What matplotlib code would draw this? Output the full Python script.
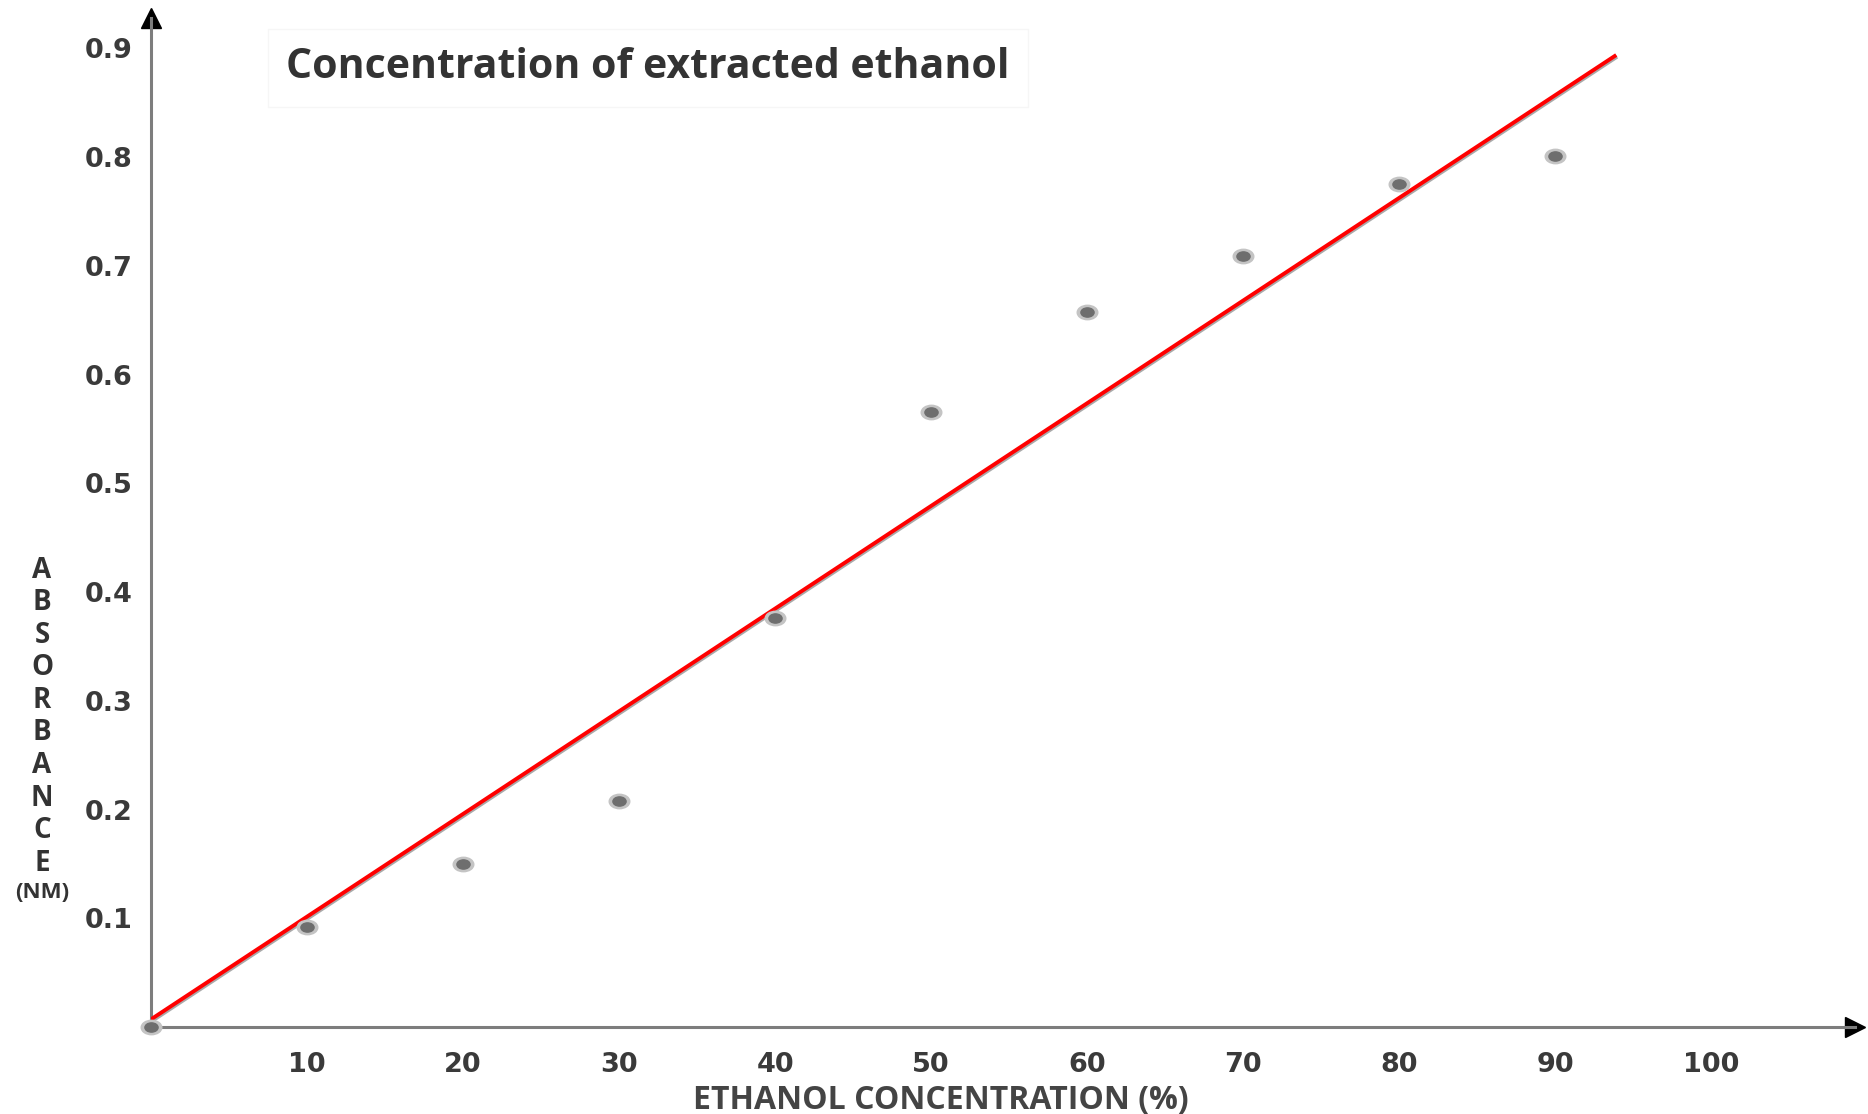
import numpy as np
import matplotlib
matplotlib.use('Agg')
import matplotlib.pyplot as plt
import matplotlib.patheffects as pe
from matplotlib.path import Path

# data
conc = [0, 10, 20, 30, 40, 50, 60, 70, 80, 90]
absorb = [0.0, 0.092, 0.150, 0.208, 0.376, 0.566, 0.658, 0.709, 0.775, 0.801]
# drawn trend line (two end points)
fit_x = [0, 93.8]
fit_y = [0.007, 0.893]

x_ticks = [10, 20, 30, 40, 50, 60, 70, 80, 90, 100]
y_ticks = [0.1, 0.2, 0.3, 0.4, 0.5, 0.6, 0.7, 0.8, 0.9]
ylabel_letters = list("ABSORBANCE")

fig = plt.figure(figsize=(18.68, 11.14), dpi=100)
ax = fig.add_axes([0.0808, 0.0781, 0.9122, 0.9057])
ax.set_xlim(0, 109.2)
ax.set_ylim(0, 0.928)

for s in ['top', 'right']:
    ax.spines[s].set_visible(False)
for s in ['left', 'bottom']:
    ax.spines[s].set_color('#7d7d7d')
    ax.spines[s].set_linewidth(2.2)

# arrow heads on the axes
ax.plot(0, 1, marker='^', color='black', markersize=15, transform=ax.transAxes, clip_on=False)
ax.plot(1, 0, marker='>', color='black', markersize=15, transform=ax.transAxes, clip_on=False)

# trend line with a slight shadow
ax.plot(fit_x, fit_y, color='#ff0000', linewidth=2.8, zorder=3,
        path_effects=[pe.SimpleLineShadow(offset=(0.6, -1.2), shadow_color='#555555', alpha=0.5),
                      pe.Normal()])

# flattened grey points
ell = Path.unit_circle()
ell = Path(ell.vertices * np.array([1.0, 0.7]), ell.codes)
ax.scatter(conc, absorb, marker=ell, s=220, color='#c4c4c4', zorder=4, clip_on=False)
ax.scatter(conc, absorb, marker=ell, s=90, color='#6e6e6e', zorder=5, clip_on=False)

ax.set_xticks(x_ticks)
ax.set_xticklabels([str(v) for v in x_ticks])
ax.set_yticks(y_ticks)
ax.set_yticklabels([f'{v:.1f}' for v in y_ticks])
ax.tick_params(axis='both', length=0, labelsize=19.5, labelcolor='#3a3a3a')
ax.tick_params(axis='x', pad=18)
ax.tick_params(axis='y', pad=13)
for lab in ax.get_xticklabels() + ax.get_yticklabels():
    lab.set_fontweight('bold')
    lab.set_family('DejaVu Sans')

ax.text(941 / 1868, 1 - 1101 / 1114, 'ETHANOL CONCENTRATION (%)', transform=fig.transFigure,
        ha='center', va='center', fontsize=23, fontweight='bold',
        family='Open Sans', color='#444444')

# vertical stacked y label
for i, ch in enumerate(ylabel_letters):
    fig.text(42 / 1868, 1 - (570 + i * 32.6) / 1114, ch, ha='center', va='center',
             fontsize=20, fontweight='bold', family='Open Sans', color='#333333')
fig.text(42 / 1868, 1 - 892 / 1114, '(NM)', ha='center', va='center',
         fontsize=16, fontweight='bold', family='Open Sans', color='#333333')

fig.text(286 / 1868, 1 - 68 / 1114, 'Concentration of extracted ethanol', ha='left', va='center',
         fontsize=29.5, fontweight='bold', family='Open Sans', color='#333333',
         bbox=dict(boxstyle='square,pad=0.45', facecolor='white', edgecolor='#f6f6f6', linewidth=1))

fig.savefig('out.png', dpi=100, facecolor='white')
